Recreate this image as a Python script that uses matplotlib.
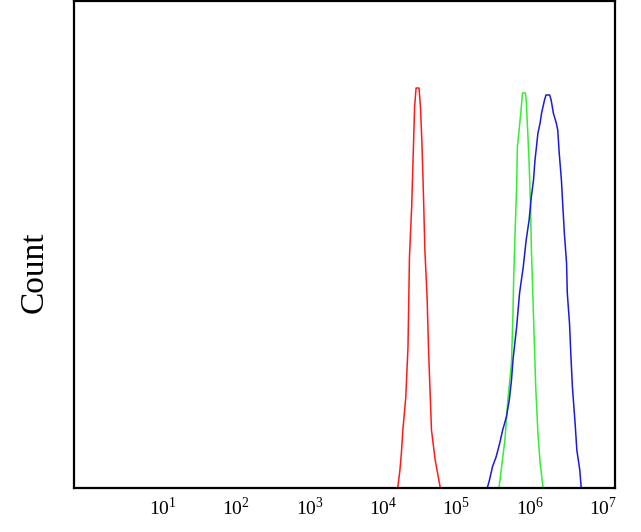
import matplotlib
matplotlib.use("Agg")
import matplotlib.pyplot as plt
import numpy as np

# log10 of intensity and counts (pixel-scale counts)
red_exp = [4.20, 4.23, 4.25, 4.27, 4.31, 4.34, 4.36, 4.39, 4.41, 4.43, 4.45,
           4.49, 4.51, 4.53, 4.55, 4.57, 4.60, 4.62, 4.64, 4.66, 4.71, 4.78]
red_cnt = [0, 18, 35, 58, 91, 141, 231, 281, 331, 381, 400,
           400, 381, 345, 295, 238, 191, 138, 98, 58, 28, 0]

green_exp = [5.58, 5.61, 5.66, 5.70, 5.75, 5.77, 5.78, 5.80, 5.82, 5.83, 5.85, 5.88, 5.90,
             5.94, 5.95, 5.97, 5.99, 6.01, 6.02, 6.04, 6.06, 6.08, 6.11, 6.14, 6.18]
green_cnt = [0, 18, 48, 88, 125, 175, 211, 258, 301, 341, 355, 378, 395,
             395, 388, 358, 325, 281, 241, 195, 148, 101, 55, 25, 0]

blue_exp = [5.42, 5.45, 5.49, 5.54, 5.59, 5.63, 5.68, 5.72, 5.75, 5.77, 5.82, 5.86, 5.91,
            5.95, 5.99, 6.02, 6.05, 6.07, 6.09, 6.11, 6.14, 6.16, 6.20, 6.22, 6.27, 6.29,
            6.32, 6.36, 6.38, 6.40, 6.43, 6.45, 6.47, 6.50, 6.51, 6.54, 6.56, 6.58, 6.62,
            6.64, 6.68, 6.70]
blue_cnt = [0, 8, 21, 31, 45, 58, 71, 88, 108, 128, 161, 195, 221,
            248, 268, 291, 308, 328, 341, 355, 365, 375, 388, 393, 393, 388,
            375, 365, 358, 335, 308, 281, 255, 225, 195, 165, 131, 101, 61,
            38, 18, 0]

tick_exp = [1, 2, 3, 4, 5, 6, 7]

plt.rcParams['mathtext.fontset'] = 'custom'
plt.rcParams['mathtext.rm'] = 'Liberation Serif'
plt.rcParams['font.family'] = 'Liberation Serif'

fig = plt.figure(figsize=(6.41, 5.32), dpi=100)
ax = fig.add_axes([74 / 641, 44 / 532, 541 / 641, 487 / 532])

ax.plot(10 ** np.array(red_exp), red_cnt, color='#ff1a1a', lw=1.1)
ax.plot(10 ** np.array(green_exp), green_cnt, color='#33ee33', lw=1.1)
ax.plot(10 ** np.array(blue_exp), blue_cnt, color='#1a1ae0', lw=1.1)

ax.set_xscale('log')
ax.set_xlim(10 ** -0.21, 10 ** 7.16)
ax.set_ylim(0, 487)
ax.set_xticks([10.0 ** e for e in tick_exp])
ax.set_xticklabels([r'$10^{%d}$' % e for e in tick_exp], fontsize=14)
ax.xaxis.set_minor_locator(matplotlib.ticker.NullLocator())
ax.tick_params(axis='x', length=0, pad=6)
ax.set_yticks([])
ax.set_ylabel('Count', fontsize=24)
ax.yaxis.set_label_coords(-0.0445, 0.4425)
for s in ax.spines.values():
    s.set_linewidth(1.6)

fig.savefig('out.png', dpi=100)
